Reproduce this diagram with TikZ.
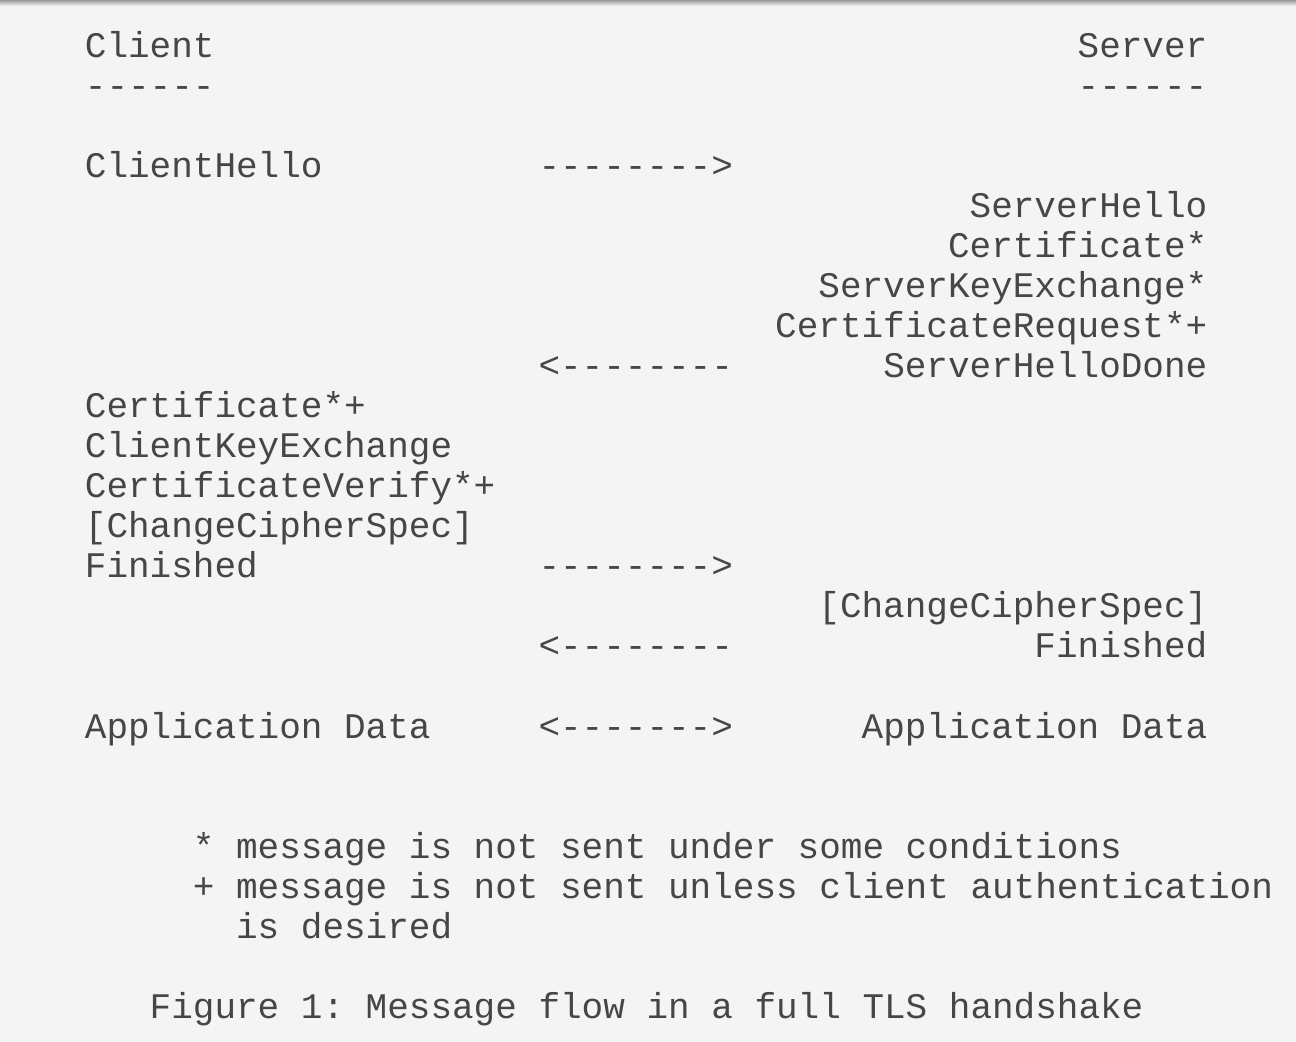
\documentclass[tikz,border=0pt]{standalone}
\usepackage{fontspec}
\setmonofont{Liberation Mono}
\definecolor{ink}{RGB}{70,70,70}
\definecolor{paper}{RGB}{244,244,244}
\tikzset{
  txt/.style = {font=\ttfamily\fontsize{18}{20}\selectfont, text=ink, inner sep=0pt, anchor=base west},
  rtxt/.style = {txt, anchor=base east}
}

\begin{document}
\begin{tikzpicture}[x=0.5pt, y=-0.5pt]
  \useasboundingbox (0,0) rectangle (1296,1042);
  \fill [paper] (0,0) rectangle (1296,1042);
  \shade [top color=black!40, bottom color=paper] (0,0) rectangle (1296,6);

  \node (client)     [txt]  at (84.5,58)     {Client};
  \node (clientrule) [txt]  at (84.5,98)     {------};
  \node (server)     [rtxt] at (1207.7,58) {Server};
  \node (serverrule) [rtxt] at (1207.7,98) {------};

  \node (chello)   [txt]  at (84.5,178)     {ClientHello};
  \node (arrhello) [txt]  at (538.1,178)  {-------->};
  \node (shello)   [rtxt] at (1207.7,218) {ServerHello};
  \node (scert)    [rtxt] at (1207.7,258) {Certificate*};
  \node (ske)      [rtxt] at (1207.7,298) {ServerKeyExchange*};
  \node (certreq)  [rtxt] at (1207.7,338) {CertificateRequest*+};
  \node (arrshd)   [txt]  at (538.1,378)  {<--------};
  \node (shd)      [rtxt] at (1207.7,378) {ServerHelloDone};

  \node (ccert)   [txt] at (84.5,418)    {Certificate*+};
  \node (cke)     [txt] at (84.5,458)    {ClientKeyExchange};
  \node (cverify) [txt] at (84.5,498)    {CertificateVerify*+};
  \node (cccs)    [txt] at (84.5,538)    {[ChangeCipherSpec]};
  \node (cfin)    [txt] at (84.5,578)    {Finished};
  \node (arrfin)  [txt] at (538.1,578) {-------->};

  \node (sccs)    [rtxt] at (1207.7,618) {[ChangeCipherSpec]};
  \node (arrsfin) [txt]  at (538.1,658)  {<--------};
  \node (sfin)    [rtxt] at (1207.7,658) {Finished};

  \node (cappdata) [txt]  at (84.5,738)     {Application Data};
  \node (arrapp)   [txt]  at (538.1,738)  {<------->};
  \node (sappdata) [rtxt] at (1207.7,738) {Application Data};

  \node (notestar)  [txt] at (192.5,858)   {* message is not sent under some conditions};
  \node (noteplus)  [txt] at (192.5,898)   {+ message is not sent unless client authentication};
  \node (noteplusb) [txt] at (235.7,938) {is desired};

  \node (caption) [txt] at (149.3,1018) {Figure 1: Message flow in a full TLS handshake};
\end{tikzpicture}
\end{document}
